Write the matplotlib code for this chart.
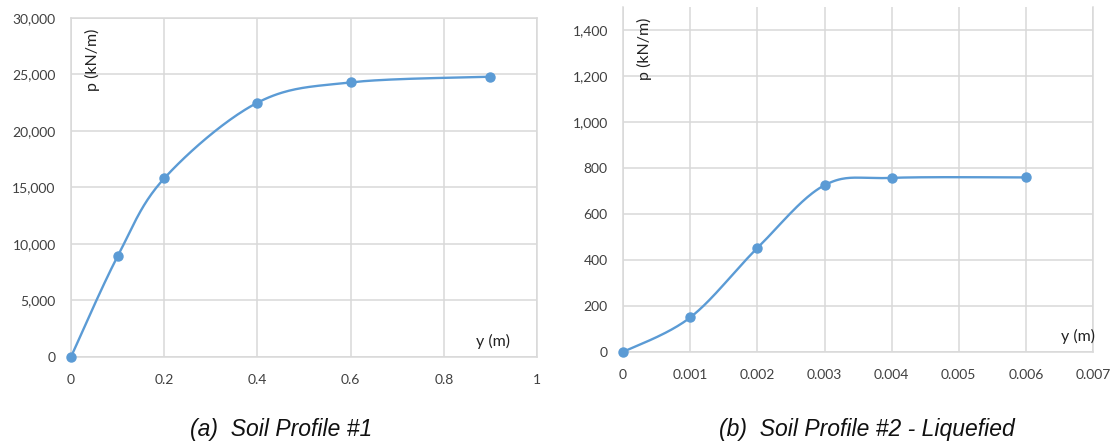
import numpy as np
import matplotlib.pyplot as plt
from matplotlib.ticker import FuncFormatter

# p-y curves
y1 = [0, 0.1, 0.2, 0.4, 0.6, 0.9]
p1 = [0, 8900, 15800, 22500, 24300, 24800]

y2 = [0, 0.001, 0.002, 0.003, 0.004, 0.006]
p2 = [0, 150, 452, 725, 757, 759]

BLUE = '#5B9BD5'
GRID = '#d9d9d9'
TEXT = '#404040'


def smooth_path(x, y, n=40):
    """Catmull-Rom style Bezier smoothing through the points (spreadsheet-like)."""
    x = np.asarray(x, float)
    y = np.asarray(y, float)
    px = np.concatenate([[x[0]], x, [x[-1]]])
    py = np.concatenate([[y[0]], y, [y[-1]]])
    xs, ys = [], []
    t = np.linspace(0, 1, n)
    for i in range(1, len(px) - 2):
        p0 = np.array([px[i], py[i]])
        p3 = np.array([px[i + 1], py[i + 1]])
        c1 = p0 + (np.array([px[i + 1], py[i + 1]]) - np.array([px[i - 1], py[i - 1]])) / 6
        c2 = p3 - (np.array([px[i + 2], py[i + 2]]) - np.array([px[i], py[i]])) / 6
        b = ((1 - t) ** 3)[:, None] * p0 + (3 * (1 - t) ** 2 * t)[:, None] * c1 \
            + (3 * (1 - t) * t ** 2)[:, None] * c2 + (t ** 3)[:, None] * p3
        xs.append(b[:, 0])
        ys.append(b[:, 1])
    return np.concatenate(xs), np.concatenate(ys)


def style_axes(ax):
    for s in ax.spines.values():
        s.set_color(GRID)
        s.set_linewidth(1.1)
    ax.grid(True, color=GRID, linewidth=1.1)
    ax.set_axisbelow(True)
    ax.tick_params(length=0, labelsize=10, colors=TEXT)
    ax.tick_params(axis='x', pad=12)
    ax.tick_params(axis='y', pad=11)


plt.rcParams['font.family'] = ['Lato', 'DejaVu Sans']
fig = plt.figure(figsize=(11.12, 4.46), dpi=100)

ax1 = fig.add_axes([0.0638, 0.1996, 0.4191, 0.7601])
sx, sy = smooth_path(y1, p1)
ax1.plot(sx, sy, color=BLUE, linewidth=1.7, clip_on=False)
ax1.plot(y1, p1, 'o', color=BLUE, markersize=6.5, clip_on=False, zorder=3)
ax1.set_xlim(0, 1)
ax1.set_ylim(0, 30000)
ax1.set_xticks([0, 0.2, 0.4, 0.6, 0.8, 1])
ax1.set_xticklabels(['0', '0.2', '0.4', '0.6', '0.8', '1'])
ax1.set_yticks(np.arange(0, 30001, 5000))
ax1.yaxis.set_major_formatter(FuncFormatter(lambda v, _: f'{v:,.0f}'))
style_axes(ax1)
ax1.text(0.047, 0.97, 'p (kN/m)', transform=ax1.transAxes, rotation=90,
         ha='center', va='top', fontsize=11.5, color='#222222')
ax1.text(0.906, 0.045, 'y (m)', transform=ax1.transAxes,
         ha='center', va='center', fontsize=11.5, color='#222222')

ax2 = fig.add_axes([0.5603, 0.2108, 0.4227, 0.7735])
sx, sy = smooth_path(y2, p2)
ax2.plot(sx, sy, color=BLUE, linewidth=1.7, clip_on=False)
ax2.plot(y2, p2, 'o', color=BLUE, markersize=6.5, clip_on=False, zorder=3)
ax2.set_xlim(0, 0.007)
ax2.set_ylim(0, 1500)
ax2.set_xticks(np.arange(0, 0.0071, 0.001))
ax2.set_xticklabels(['0', '0.001', '0.002', '0.003', '0.004', '0.005', '0.006', '0.007'])
ax2.set_yticks(np.arange(0, 1401, 200))
ax2.yaxis.set_major_formatter(FuncFormatter(lambda v, _: f'{v:,.0f}'))
style_axes(ax2)
ax2.spines['top'].set_visible(False)
ax2.text(0.045, 0.97, 'p (kN/m)', transform=ax2.transAxes, rotation=90,
         ha='center', va='top', fontsize=11.5, color='#222222')
ax2.text(0.967, 0.045, 'y (m)', transform=ax2.transAxes,
         ha='center', va='center', fontsize=11.5, color='#222222')

cap_font = ['Liberation Sans Narrow', 'Liberation Sans', 'DejaVu Sans']
fig.text(0.253, 0.036, '(a)  Soil Profile #1', ha='center', va='center',
         fontsize=16.5, style='italic', family=cap_font, color='#111111')
fig.text(0.780, 0.036, '(b)  Soil Profile #2 - Liquefied', ha='center', va='center',
         fontsize=16.5, style='italic', family=cap_font, color='#111111')

fig.savefig('out.png', dpi=100)
